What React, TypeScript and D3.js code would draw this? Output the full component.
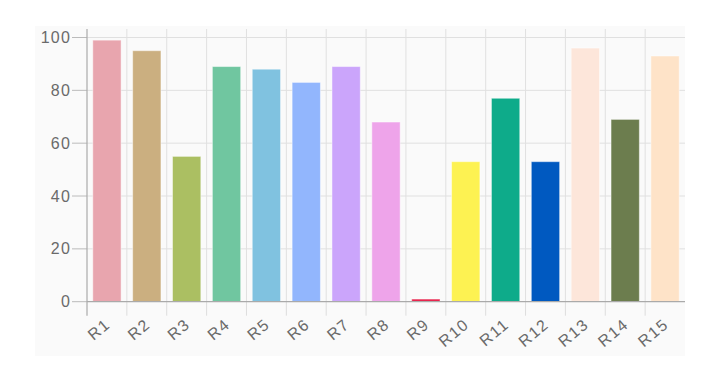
import React from "react";
import * as d3 from "d3";

const categories = ["R1", "R2", "R3", "R4", "R5", "R6", "R7", "R8", "R9", "R10", "R11", "R12", "R13", "R14", "R15"];
const values = [99, 95, 55, 89, 88, 83, 89, 68, 1, 53, 77, 53, 96, 69, 93];
const colors = [
  "#e8a5ae", "#cbaf80", "#abbf62", "#70c6a0", "#80c2e0", "#92b6fd", "#cba5fb", "#eea4ea",
  "#e8254e", "#fdf252", "#0eab8a", "#0059c0", "#fde6da", "#6c7d4e", "#fee3c8",
];
const yTicks = [0, 20, 40, 60, 80, 100];

const W = 710;
const H = 377;
const panel = { x: 35, y: 26, w: 650, h: 330 };
const plot = { left: 87, right: 685, top: 29, bottom: 301.7 };

export default function App() {
  const x = d3.scaleBand<string>().domain(categories).range([plot.left, plot.right]).paddingInner(0).paddingOuter(0);
  const y = d3.scaleLinear().domain([0, 100]).range([plot.bottom, 37.5]);
  const bw = x.bandwidth();
  const barW = bw * 0.71;
  const font = "'Liberation Sans', Arial, sans-serif";

  return (
    <svg width={W} height={H} style={{ position: "absolute", left: 0, top: 0 }}>
      <rect x={0} y={0} width={W} height={H} fill="#ffffff" />
      <rect x={panel.x} y={panel.y} width={panel.w} height={panel.h} fill="#fafafa" />

      {/* horizontal grid + y ticks */}
      {yTicks.map((t) => (
        <g key={"y" + t}>
          {t > 0 && (
            <line x1={plot.left} x2={plot.right} y1={y(t)} y2={y(t)} stroke="#e0e0e0" strokeWidth={1} />
          )}
          <line x1={plot.left - 15} x2={plot.left} y1={y(t)} y2={y(t)} stroke="#bbbbbb" strokeWidth={1} />
          <text
            x={plot.left - 16}
            y={y(t)}
            dy="0.35em"
            textAnchor="end"
            fontFamily={font}
            fontSize={16}
            fill="#6a6a6a"
            letterSpacing={1.2}
          >
            {t}
          </text>
        </g>
      ))}

      {/* vertical grid at band boundaries */}
      {categories.map((c, i) =>
        i === 0 ? null : (
          <g key={"v" + c}>
            <line x1={x(c)!} x2={x(c)!} y1={plot.top} y2={plot.bottom} stroke="#e0e0e0" strokeWidth={1} />
            <line x1={x(c)!} x2={x(c)!} y1={plot.bottom} y2={plot.bottom + 14} stroke="#dddddd" strokeWidth={1} />
          </g>
        )
      )}

      {/* bars */}
      {categories.map((c, i) => (
        <rect
          key={"b" + c}
          x={x(c)! + (bw - barW) / 2}
          y={y(values[i])}
          width={barW}
          height={plot.bottom - y(values[i])}
          fill={colors[i]}
          stroke="#ffffff"
          strokeOpacity={0.45}
          strokeWidth={1}
        />
      ))}

      {/* axes */}
      <line x1={plot.left} x2={plot.right} y1={plot.bottom} y2={plot.bottom} stroke="#aaaaaa" strokeWidth={1.2} />
      <line x1={plot.left} x2={plot.left} y1={plot.top} y2={plot.bottom + 14} stroke="#aaaaaa" strokeWidth={1.2} />

      {/* x labels */}
      {categories.map((c) => {
        const cx = x(c)! + bw / 2 + 1;
        const cy = plot.bottom + 20;
        return (
          <text
            key={"l" + c}
            transform={`translate(${cx},${cy}) rotate(-40)`}
            textAnchor="end"
            dy="0.35em"
            fontFamily={font}
            fontSize={16}
            fill="#6a6a6a"
            letterSpacing={1.5}
          >
            {c}
          </text>
        );
      })}
    </svg>
  );
}
